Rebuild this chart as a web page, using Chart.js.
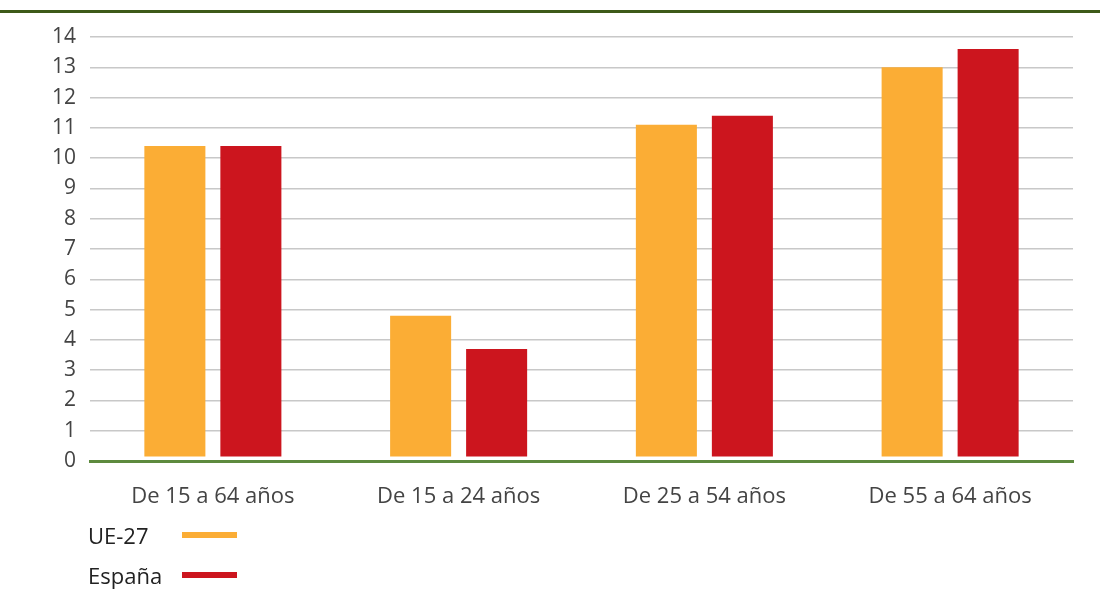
<!DOCTYPE html>
<html>
<head>
<meta charset="utf-8">
<script src="https://cdn.jsdelivr.net/npm/chart.js@4/dist/chart.umd.min.js"></script>
<style>
  html, body { margin: 0; padding: 0; background: #fff; }
  #wrap { position: relative; width: 1100px; height: 591px; }
  #topline { position: absolute; left: 0; top: 10px; width: 1100px; height: 3px; background: #3d5a18; }
  #legend { position: absolute; left: 88px; top: 515px; font-family: 'Open Sans', sans-serif; font-size: 22px; color: #222; }
  .item { height: 40px; display: flex; align-items: center; }
  .item span.lbl { display: inline-block; width: 94px; }
  .item span.sw { display: inline-block; width: 55px; height: 6px; }
</style>
</head>
<body>
<div id="wrap">
  <canvas id="chart" width="1100" height="591"></canvas>
  <div id="topline"></div>
  <div id="legend"></div>
</div>
<script>
  'use strict';

  // Datos
  const categories = ['De 15 a 64 años', 'De 15 a 24 años', 'De 25 a 54 años', 'De 55 a 64 años'];
  const seriesNames = ['UE-27', 'España'];
  const ue27Values = [10.4, 4.8, 11.1, 13.0];
  const espanaValues = [10.4, 3.7, 11.4, 13.6];
  const yTicks = [0, 1, 2, 3, 4, 5, 6, 7, 8, 9, 10, 11, 12, 13, 14];

  const orangeColor = '#fbad35',
    redColor = '#cc151e',
    gridColor = '#c8c8c8',
    axisGreen = '#5d8a3e',
    labelColor = '#444444';

  const seriesColors = [orangeColor, redColor];

  // leyenda
  const legendEl = document.getElementById('legend');
  seriesNames.forEach(function (name, i) {
    const row = document.createElement('div');
    row.className = 'item';
    row.innerHTML = '<span class="lbl">' + name + '</span><span class="sw" style="background:' + seriesColors[i] + '"></span>';
    legendEl.appendChild(row);
  });

  const ctx = document.getElementById('chart');
  new Chart(ctx, {
    type: 'bar',
    data: {
      labels: categories,
      datasets: [
        {
          label: seriesNames[0],
          data: ue27Values,
          backgroundColor: orangeColor,
          borderWidth: 0,
          base: 0.15,
          categoryPercentage: 0.6185,
          barPercentage: 0.803
        },
        {
          label: seriesNames[1],
          data: espanaValues,
          backgroundColor: redColor,
          borderWidth: 0,
          base: 0.15,
          categoryPercentage: 0.6185,
          barPercentage: 0.803
        }
      ]
    },
    options: {
      responsive: false,
      animation: false,
      layout: {
        padding: { top: 37, right: 27, bottom: 0, left: 0 }
      },
      plugins: {
        legend: { display: false },
        tooltip: { enabled: false }
      },
      scales: {
        x: {
          grid: { display: false, drawTicks: false },
          border: { display: true, color: axisGreen, width: 3 },
          ticks: {
            color: labelColor,
            padding: 23,
            font: { family: 'Open Sans', size: 22 }
          },
          afterFit: function (scale) { scale.height = 130; }
        },
        y: {
          min: 0,
          max: 14,
          afterBuildTicks: function (scale) {
            scale.ticks = yTicks.map(function (v) { return { value: v }; });
          },
          grid: { color: gridColor, lineWidth: 1.5, drawTicks: false },
          border: { display: false },
          ticks: {
            color: labelColor,
            padding: 14,
            font: { family: 'Open Sans', size: 21 }
          },
          afterFit: function (scale) { scale.width = 90; }
        }
      }
    }
  });
</script>
</body>
</html>
